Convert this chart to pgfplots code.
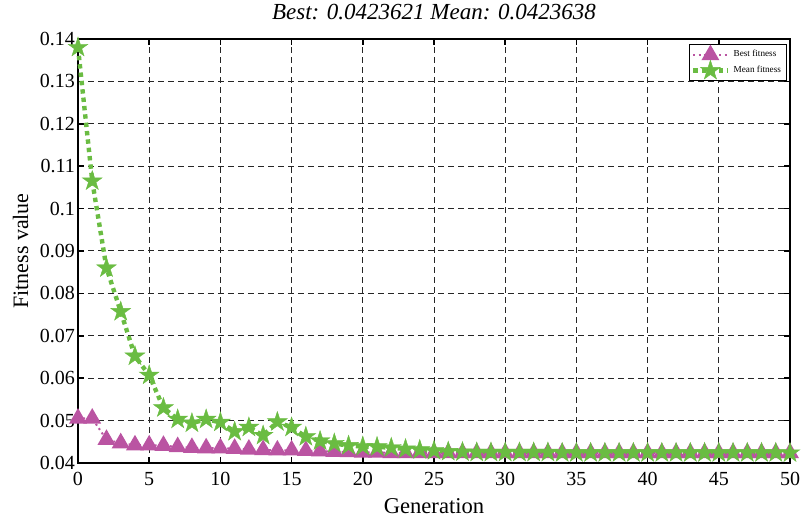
\documentclass[border=0pt]{standalone}
\usepackage{fontspec}
\setmainfont{Liberation Serif}
\usepackage{pgfplots}
\pgfplotsset{compat=1.18}
\usetikzlibrary{calc}
\definecolor{bestc}{RGB}{186,84,162}
\definecolor{meanc}{RGB}{106,188,66}

% filled five-pointed star
\pgfdeclareplotmark{fstar}{%
  \pgfpathmoveto{\pgfpointpolar{90}{\pgfplotmarksize}}%
  \pgfpathlineto{\pgfpointpolar{126}{0.382\pgfplotmarksize}}%
  \pgfpathlineto{\pgfpointpolar{162}{\pgfplotmarksize}}%
  \pgfpathlineto{\pgfpointpolar{198}{0.382\pgfplotmarksize}}%
  \pgfpathlineto{\pgfpointpolar{234}{\pgfplotmarksize}}%
  \pgfpathlineto{\pgfpointpolar{270}{0.382\pgfplotmarksize}}%
  \pgfpathlineto{\pgfpointpolar{306}{\pgfplotmarksize}}%
  \pgfpathlineto{\pgfpointpolar{342}{0.382\pgfplotmarksize}}%
  \pgfpathlineto{\pgfpointpolar{18}{\pgfplotmarksize}}%
  \pgfpathlineto{\pgfpointpolar{54}{0.382\pgfplotmarksize}}%
  \pgfpathclose
  \pgfusepathqfillstroke}

\pgfplotstableread{
gen best mean
0 0.0505 0.1380
1 0.0505 0.1065
2 0.0455 0.0860
3 0.0447 0.0757
4 0.0442 0.0652
5 0.0442 0.0607
6 0.0441 0.0530
7 0.0438 0.0503
8 0.0436 0.0494
9 0.0435 0.0503
10 0.0435 0.0496
11 0.0434 0.0474
12 0.0432 0.0484
13 0.0431 0.0465
14 0.0430 0.0497
15 0.0430 0.0484
16 0.0429 0.0462
17 0.0428 0.0452
18 0.0427 0.0446
19 0.0426 0.0441
20 0.0425 0.0439
21 0.0425 0.0438
22 0.0424 0.0436
23 0.0424 0.0433
24 0.0424 0.0431
25 0.0424 0.0429
26 0.04238 0.0427
27 0.04238 0.0426
28 0.04238 0.0425
29 0.04237 0.0425
30 0.04237 0.0425
31 0.04237 0.0425
32 0.04237 0.0425
33 0.04237 0.0425
34 0.04237 0.0424
35 0.04237 0.0424
36 0.04237 0.0424
37 0.04237 0.0424
38 0.04237 0.0424
39 0.04236 0.0424
40 0.04236 0.0424
41 0.04236 0.0424
42 0.04236 0.0424
43 0.04236 0.0424
44 0.04236 0.0424
45 0.04236 0.0424
46 0.04236 0.0424
47 0.04236 0.0424
48 0.04236 0.0424
49 0.04236 0.0424
50 0.0423621 0.0423638
}\fitdata

\begin{document}
\begin{tikzpicture}
\begin{axis}[
  name=ax,
  scale only axis,
  width=356pt, height=212pt,
  xmin=0, xmax=50, ymin=0.04, ymax=0.14,
  xtick={0,5,...,50},
  ytick={0.04,0.05,...,0.14},
  /pgf/number format/fixed,
  /pgf/number format/precision=2,
  /pgf/number format/assume math mode=true,
  tick align=inside,
  tick style={black, line width=0.8pt},
  axis line style={line width=0.8pt},
  major tick length=3pt,
  grid=major,
  major grid style={black!85, line width=0.5pt, dash pattern=on 3pt off 2pt},
  ticklabel style={font=\fontsize{10}{11}\selectfont},
  yticklabel style={xshift=2pt},
  xticklabel style={yshift=-1pt},
  xlabel={Generation},
  ylabel={Fitness value},
  xlabel style={font=\fontsize{11.3}{12}\selectfont, at={(axis description cs:0.5,-0.118)}, anchor=base},
  ylabel style={font=\fontsize{11}{12}\selectfont, at={(axis description cs:-0.0702,0.5)}, anchor=base},
  clip=false,
  legend style={font=\fontsize{4.6}{5.5}\selectfont, draw=black, line width=0.6pt,
    inner sep=0.8pt, row sep=-1.8pt, at={(0.996,0.988)}, anchor=north east},
  legend cell align=left,
]
\addplot[bestc, line width=1pt, dash pattern=on 1pt off 1.6pt,
  mark=triangle*, mark size=4.2pt, mark options={solid, fill=bestc, draw=bestc}]
  table[x=gen, y=best] {\fitdata};
\addlegendentry{Best fitness}
\addplot[meanc, line width=2.2pt, dash pattern=on 2.2pt off 2pt,
  mark=fstar, mark size=5.2pt, mark options={solid, fill=meanc, draw=meanc, line width=0.2pt}]
  table[x=gen, y=mean] {\fitdata};
\addlegendentry{Mean fitness}
\end{axis}
\node[font=\fontsize{11.5}{12}\selectfont\itshape, anchor=base, inner sep=0pt]
  at ($(ax.north)+(0,9.5pt)$) {Best: 0.0423621 Mean: 0.0423638};
\pgfresetboundingbox
\path ($(ax.south west)+(-39pt,-30.5pt)$) rectangle ($(ax.north east)+(5.5pt,19.5pt)$);
\end{tikzpicture}
\end{document}
